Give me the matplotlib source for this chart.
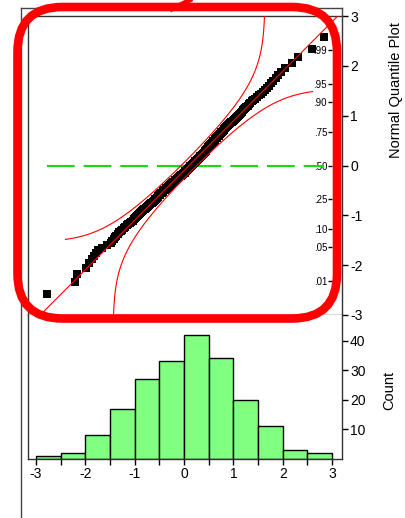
import numpy as np
import matplotlib
matplotlib.use('Agg')
import matplotlib.pyplot as plt
from matplotlib.patches import FancyBboxPatch
from matplotlib.lines import Line2D
from statistics import NormalDist

plt.rcParams['font.family'] = ['Liberation Sans', 'DejaVu Sans']
plt.rcParams['axes.unicode_minus'] = False

# Значения выборки (оценены по картинке)
values = [
    -2.78,
    -2.21, -2.17,
    -1.98, -1.92, -1.87, -1.83, -1.79, -1.74, -1.66, -1.57,
    -1.48, -1.45, -1.42, -1.39, -1.37, -1.34, -1.31, -1.28, -1.25, -1.22,
    -1.19, -1.16, -1.13, -1.10, -1.07, -1.04, -1.02,
    -0.99, -0.97, -0.95, -0.93, -0.91, -0.89, -0.87, -0.85, -0.83, -0.81,
    -0.79, -0.77, -0.75, -0.73, -0.71, -0.69, -0.67, -0.65, -0.63, -0.61,
    -0.59, -0.58, -0.56, -0.55, -0.53, -0.52, -0.51,
    -0.49, -0.48, -0.46, -0.45, -0.43, -0.42, -0.40, -0.39, -0.37, -0.36,
    -0.34, -0.33, -0.31, -0.30, -0.28, -0.27, -0.25, -0.24, -0.22, -0.21,
    -0.19, -0.18, -0.16, -0.15, -0.13, -0.12, -0.10, -0.09, -0.07, -0.06,
    -0.04, -0.03, -0.01,
    0.01, 0.02, 0.03, 0.05, 0.06, 0.07, 0.08, 0.10, 0.11, 0.12,
    0.13, 0.15, 0.16, 0.17, 0.18, 0.20, 0.21, 0.22, 0.23, 0.25,
    0.26, 0.27, 0.28, 0.30, 0.31, 0.32, 0.33, 0.35, 0.36, 0.37,
    0.38, 0.40, 0.41, 0.42, 0.43, 0.44, 0.45, 0.46, 0.47, 0.48,
    0.49, 0.495,
    0.51, 0.52, 0.53, 0.54, 0.56, 0.57, 0.58, 0.59, 0.61, 0.62,
    0.63, 0.65, 0.66, 0.67, 0.69, 0.70, 0.71, 0.73, 0.74, 0.75,
    0.77, 0.78, 0.80, 0.81, 0.83, 0.84, 0.86, 0.87, 0.89, 0.91,
    0.93, 0.95, 0.97, 0.99,
    1.01, 1.03, 1.05, 1.07, 1.09, 1.11, 1.13, 1.15, 1.17, 1.19,
    1.21, 1.23, 1.26, 1.29, 1.31, 1.34, 1.37, 1.40, 1.44, 1.48,
    1.52, 1.56, 1.60, 1.64, 1.68, 1.72, 1.77, 1.81, 1.86, 1.91, 1.96,
    2.05, 2.18, 2.31,
    2.60, 2.84,
]
bin_edges = [-3, -2.5, -2, -1.5, -1, -0.5, 0, 0.5, 1, 1.5, 2, 2.5, 3]
x_ticks = [-3, -2, -1, 0, 1, 2, 3]
quantile_ticks = [-3, -2, -1, 0, 1, 2, 3]
count_ticks = [10, 20, 30, 40]
prob_values = [0.01, 0.05, 0.10, 0.25, 0.50, 0.75, 0.90, 0.95, 0.99]
prob_labels = ['.01', '.05', '.10', '.25', '.50', '.75', '.90', '.95', '.99']

W, H = 405, 518
fig = plt.figure(figsize=(W / 100, H / 100), dpi=100)


def box(left, top, right, bottom):
    # пиксели -> доли фигуры
    return [left / W, 1 - bottom / H, (right - left) / W, (bottom - top) / H]


ax_q = fig.add_axes(box(28, 16, 342, 315))
ax_h = fig.add_axes(box(28, 315, 342, 459))

nd = NormalDist()
data = np.sort(np.array(values))
n = len(data)
z = np.array([nd.inv_cdf(i / (n + 1)) for i in range(1, n + 1)])
mean, sd = data.mean(), data.std(ddof=1)

# Нормальный квантильный график
ax_q.plot(data, z, 's', color='black', ms=6.3, mew=0, zorder=3)
zz = np.linspace(-3, 3, 800)
ax_q.plot(mean + sd * zz, zz, color='red', lw=0.8, zorder=4)
D = 0.886 / np.sqrt(n)  # граница Лиллиефорса
cdf = np.array([nd.cdf(t) for t in zz])
for sign in (-1, 1):
    p = cdf + sign * D
    ok = (p > 0.006) & (p < 0.994)
    xb = mean + sd * np.array([nd.inv_cdf(v) for v in p[ok]])
    ax_q.plot(xb, zz[ok], color='red', lw=0.8, zorder=4)
ax_q.plot([data.min(), data.max()], [0, 0], color='#11dd11', lw=1.5, dashes=(13.3, 4.3), zorder=2)

ax_q.set_xlim(-3.16, 3.2)
ax_q.set_ylim(-3, 3)
ax_q.set_xticks([])
ax_q.yaxis.tick_right()
ax_q.set_yticks(quantile_ticks)
ax_q.tick_params(axis='y', direction='out', length=4.3, width=1, labelsize=10, pad=1.5)

# Шкала вероятностей внутри графика
sec = ax_q.secondary_yaxis(0.968)
sec.set_alignment('left')
sec.set_yticks([nd.inv_cdf(p) for p in prob_values], prob_labels)
sec.tick_params(direction='out', length=3, width=1, labelsize=7, pad=0.5)
for s in sec.spines.values():
    s.set_visible(False)

# Гистограмма
ax_h.hist(data, bins=bin_edges, color='#80ff80', edgecolor='black', linewidth=1)
ax_h.set_xlim(-3.16, 3.2)
ax_h.set_ylim(0, 48.7)
ax_h.yaxis.tick_right()
ax_h.set_yticks(count_ticks)
ax_h.set_xticks(x_ticks)
ax_h.set_xticks(bin_edges, minor=True)
ax_h.tick_params(axis='both', which='both', direction='out', length=4.3, width=1, labelsize=10, pad=1.5)
ax_h.spines['top'].set_visible(False)

for a in (ax_q, ax_h):
    for s in a.spines.values():
        s.set_color('#333333')
        s.set_linewidth(1)

fig.text(396 / W, 1 - 90 / H, 'Normal Quantile Plot', rotation=90, ha='center', va='center', fontsize=10.5)
fig.text(389 / W, 1 - 390 / H, 'Count', rotation=90, ha='center', va='center', fontsize=10.5)

# Внешняя рамка
for xs, ys in [([21, 21], [8, 518]), ([21, 342], [8, 8]), ([342, 342], [8, 16])]:
    fig.add_artist(Line2D([x / W for x in xs], [1 - y / H for y in ys], color='#444444', lw=1))

# Красная рамка-выделение
rect = FancyBboxPatch((17.5 / W, 1 - 318.5 / H), (337 - 17.5) / W, (318.5 - 7) / H,
                      boxstyle='round,pad=0,rounding_size=%f' % (45 / W), mutation_aspect=W / H,
                      transform=fig.transFigure, fc='none', ec='red', lw=6.2, zorder=10)
fig.add_artist(rect)
fig.add_artist(Line2D([172 / W, 190 / W], [1 - 9 / H, 1.0], color='red', lw=3.5, zorder=10))

plt.savefig('out.png', dpi=100)
